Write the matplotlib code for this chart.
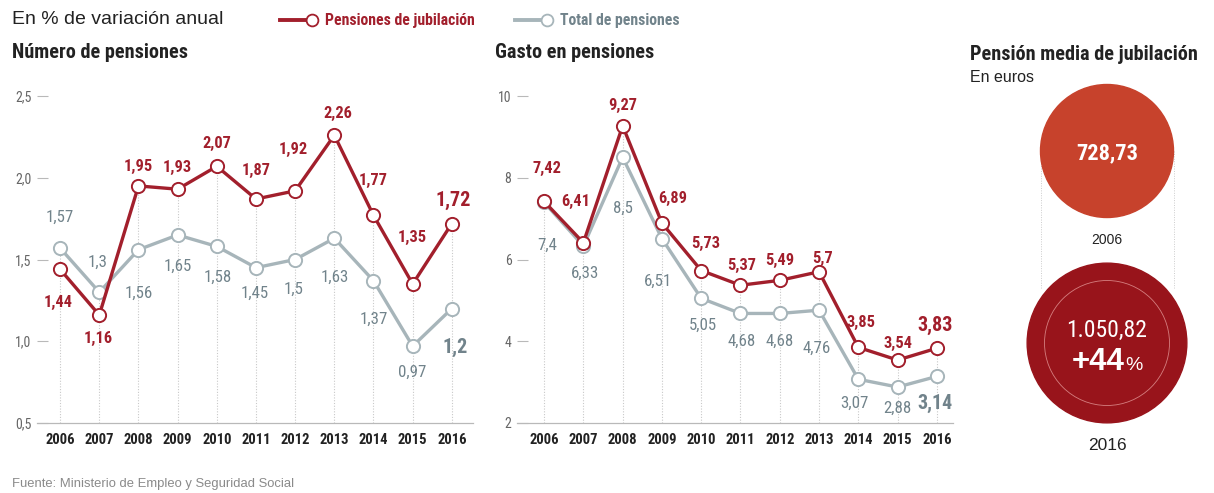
import matplotlib
matplotlib.use("Agg")
import matplotlib.pyplot as plt
from matplotlib import font_manager
from matplotlib.patches import Circle
from matplotlib.lines import Line2D
import numpy as np

# ---- data -------------------------------------------------------------
years = [2006, 2007, 2008, 2009, 2010, 2011, 2012, 2013, 2014, 2015, 2016]

num_jubilacion = [1.44, 1.16, 1.95, 1.93, 2.07, 1.87, 1.92, 2.26, 1.77, 1.35, 1.72]
num_total = [1.57, 1.30, 1.56, 1.65, 1.58, 1.45, 1.50, 1.63, 1.37, 0.97, 1.20]

gasto_jubilacion = [7.42, 6.41, 9.27, 6.89, 5.73, 5.37, 5.49, 5.70, 3.85, 3.54, 3.83]
gasto_total = [7.40, 6.33, 8.50, 6.51, 5.05, 4.68, 4.68, 4.76, 3.07, 2.88, 3.14]

num_yticks = [0.5, 1.0, 1.5, 2.0, 2.5]
num_yticklabels = ["0,5", "1,0", "1,5", "2,0", "2,5"]
gasto_yticks = [2, 4, 6, 8, 10]
gasto_yticklabels = ["2", "4", "6", "8", "10"]

media_years = ["2006", "2016"]
media_values = [728.73, 1050.82]

# ---- label placement (pixel offsets: dx right, dy down) ----------------
num_jub_off = [(-2, 33), (-1, 23), (0, -19), (0, -22), (0, -23), (0, -29),
               (-2, -41), (3, -22), (0, -35), (0, -47), (1, -23)]
num_tot_off = [(0, -31), (-2, -30), (0, 44), (0, 31), (1, 31), (-1, 26),
               (-2, 30), (0, 39), (0, 39), (0, 26), (3, 39)]
gas_jub_off = [(3, -33), (-8, -41), (0, -20), (11, -25), (4, -27), (1, -20),
               (0, -20), (4, -13), (3, -25), (0, -17), (-2, -23)]
gas_tot_off = [(3, 43), (2, 27), (0, 51), (-4, 43), (2, 27), (1, 28),
               (0, 28), (-2, 38), (-4, 24), (0, 21), (-2, 27)]

# ---- style --------------------------------------------------------------
RED = "#a21f2c"
GREY_LINE = "#a7b5ba"
GREY_TEXT = "#71838b"
DARK = "#222222"
AXIS_GREY = "#b9b9b9"
TOP_CIRCLE = "#c7422c"
BOTTOM_CIRCLE = "#98141b"

installed = {f.name for f in font_manager.fontManager.ttflist}
COND = "DejaVu Sans"
for cand in ["Roboto Condensed", "Liberation Sans Narrow", "Open Sans Condensed",
             "DejaVu Sans Condensed", "Roboto", "Liberation Sans"]:
    if cand in installed:
        COND = cand
        break
REG = "Liberation Sans" if "Liberation Sans" in installed else "DejaVu Sans"
plt.rcParams["font.family"] = [COND, "DejaVu Sans"]

W, H = 1214, 493
fig = plt.figure(figsize=(W / 100, H / 100), dpi=100)
fig.patch.set_facecolor("white")


def px_rect(x0, y0, x1, y1):
    return [x0 / W, 1 - y1 / H, (x1 - x0) / W, (y1 - y0) / H]


def fmt(v):
    return f"{v:g}".replace(".", ",")


def line_panel(rect, xlim, ylim, yticks, yticklabels, red_vals, grey_vals,
               red_off, grey_off):
    ax = fig.add_axes(rect)
    ax.set_xlim(*xlim)
    ax.set_ylim(*ylim)
    for s in ["top", "right", "left"]:
        ax.spines[s].set_visible(False)
    ax.spines["bottom"].set_color(AXIS_GREY)
    ax.spines["bottom"].set_linewidth(0.9)
    ax.set_yticks(yticks)
    ax.set_yticklabels(yticklabels)
    ax.tick_params(axis="y", direction="in", length=8, width=0.8, color=AXIS_GREY,
                   labelsize=10, labelcolor="#666666", pad=4)
    ax.set_xticks(years)
    ax.set_xticklabels([str(y) for y in years])
    ax.tick_params(axis="x", length=0, labelsize=10.5, labelcolor=DARK, pad=7)
    for lab in ax.get_xticklabels():
        lab.set_fontweight("bold")

    # dotted guides from the baseline up to the higher point of each year
    tops = np.maximum(red_vals, grey_vals)
    ax.vlines(years, ylim[0], tops, colors="#c9c9c9", linestyles=(0, (1, 1.5)),
              linewidth=0.8, zorder=1)

    ax.plot(years, grey_vals, color=GREY_LINE, lw=2.4, marker="o", ms=9.5,
            mfc="white", mec=GREY_LINE, mew=1.4, zorder=3, clip_on=False)
    ax.plot(years, red_vals, color=RED, lw=2.4, marker="o", ms=9.5,
            mfc="white", mec=RED, mew=1.4, zorder=4, clip_on=False)

    n = len(years)
    for i, (x, v) in enumerate(zip(years, red_vals)):
        dx, dy = red_off[i]
        big = i == n - 1
        ax.annotate(fmt(v), (x, v), xytext=(dx, -dy), textcoords="offset pixels",
                    ha="center", va="center", color=RED, fontweight="bold",
                    fontsize=14.5 if big else 11.8, zorder=5, annotation_clip=False)
    for i, (x, v) in enumerate(zip(years, grey_vals)):
        dx, dy = grey_off[i]
        big = i == n - 1
        ax.annotate(fmt(v), (x, v), xytext=(dx, -dy), textcoords="offset pixels",
                    ha="center", va="center", color=GREY_TEXT,
                    fontweight="bold" if big else "normal",
                    fontsize=14.5 if big else 12.2, zorder=5, annotation_clip=False)
    return ax


line_panel(px_rect(37, 96, 473, 423), (2005.41, 2016.54), (0.5, 2.5),
           num_yticks, num_yticklabels, num_jubilacion, num_total,
           num_jub_off, num_tot_off)
line_panel(px_rect(517, 96, 953, 423), (2005.31, 2016.41), (2, 10),
           gasto_yticks, gasto_yticklabels, gasto_jubilacion, gasto_total,
           gas_jub_off, gas_tot_off)

# ---- headings ------------------------------------------------------------
def ftext(x, y, s, **kw):
    fig.text(x / W, 1 - y / H, s, **kw)


ftext(12, 20, "En % de variación anual", fontsize=14, color=DARK,
      va="center", family=[REG, "DejaVu Sans"])
ftext(12, 52, "Número de pensiones", fontsize=14.6, fontweight="bold", color=DARK,
      va="center")
ftext(495, 52, "Gasto en pensiones", fontsize=14.6, fontweight="bold", color=DARK,
      va="center")
ftext(970, 55, "Pensión media de jubilación", fontsize=14.6, fontweight="bold",
      color=DARK, va="center")
ftext(970, 78, "En euros", fontsize=11.5, color=DARK, va="center",
      family=[REG, "DejaVu Sans"])
ftext(12, 484, "Fuente: Ministerio de Empleo y Seguridad Social", fontsize=9.4,
      color="#8a8a8a", va="center", family=[REG, "DejaVu Sans"])

# legend
for (x0, col, tcol, label) in [(280, RED, RED, "Pensiones de jubilación"),
                                (515, GREY_LINE, GREY_TEXT, "Total de pensiones")]:
    fig.add_artist(Line2D([x0 / W, (x0 + 27) / W], [1 - 20 / H, 1 - 20 / H],
                          color=col, lw=2.8, transform=fig.transFigure))
    fig.add_artist(Line2D([(x0 + 32) / W], [1 - 20 / H], marker="o", ms=8.5,
                          mfc="white", mec=col, mew=1.3, transform=fig.transFigure))
    ftext(x0 + 45, 20, label, fontsize=11.3, fontweight="bold", color=tcol, va="center")

# ---- average pension bubbles (area proportional) --------------------------
cax = fig.add_axes([0, 0, 1, 1])
cax.set_xlim(0, W)
cax.set_ylim(H, 0)
cax.set_aspect("equal")
cax.axis("off")
cax.patch.set_alpha(0)

base_r = 66.5
radii = [base_r * np.sqrt(v / media_values[0]) for v in media_values]
cx = 1107
cy = [151, 343]

for sx in (cx - radii[0], cx + radii[0]):
    cax.plot([sx, sx], [cy[0], cy[1] - radii[1] + 25], color="#cccccc",
             lw=0.7, ls=(0, (1, 1.5)), zorder=1)

cax.add_patch(Circle((cx, cy[0]), radii[0], color=TOP_CIRCLE, zorder=2))
cax.add_patch(Circle((cx, cy[1]), radii[1], color=BOTTOM_CIRCLE, zorder=2))
cax.add_patch(Circle((cx, cy[1]), radii[0] - 4, fill=False, ec="#e59a9a",
                     lw=0.6, alpha=0.8, zorder=3))


def euros(v):
    return f"{v:,.2f}".replace(",", "X").replace(".", ",").replace("X", ".")


cax.text(cx, cy[0] + 2, euros(media_values[0]), color="white", fontsize=16,
         fontweight="bold", ha="center", va="center", zorder=4)
cax.text(cx, cy[1] - 13, euros(media_values[1]), color="white", fontsize=17,
         ha="center", va="center", zorder=4)
pct = round((media_values[1] / media_values[0] - 1) * 100)
cax.text(cx + 18, cy[1] + 19, f"+{pct}", color="white", fontsize=22.5, fontweight="bold",
         ha="right", va="center", family=[REG, "DejaVu Sans"], zorder=4)
cax.text(cx + 18, cy[1] + 22, "%", color="white", fontsize=14,
         ha="left", va="center", family=[REG, "DejaVu Sans"], zorder=4)

cax.text(cx, 240, media_years[0], color=DARK, fontsize=10, ha="center", va="center",
         family=[REG, "DejaVu Sans"])
cax.text(cx, 445, media_years[1], color=DARK, fontsize=12.5, ha="center", va="center",
         family=[REG, "DejaVu Sans"])

fig.savefig("out.png", dpi=100, facecolor="white")
